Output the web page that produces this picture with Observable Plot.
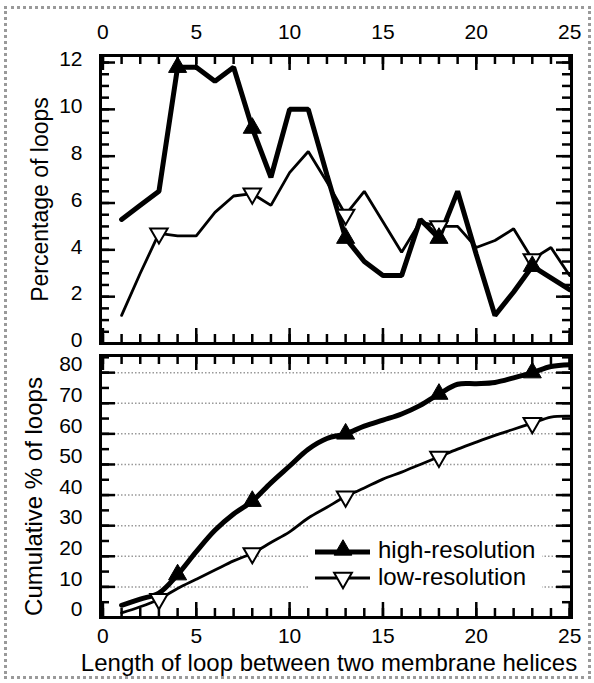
<!DOCTYPE html>
<html><head><meta charset="utf-8">
<script src="https://cdn.jsdelivr.net/npm/d3@7"></script>
<script src="https://cdn.jsdelivr.net/npm/@observablehq/plot@0.6"></script>
<style>
body{margin:0;background:#fff;}
#wrap{position:relative;width:594px;height:683px;overflow:hidden;background:#fff;font-family:"Liberation Sans",Arial,Helvetica,sans-serif;}
#border{position:absolute;left:4px;top:6px;width:587px;height:673px;box-sizing:border-box;border:3px dotted #9a9a9a;pointer-events:none;}
#top{position:absolute;left:0;top:0;}
#bottom{position:absolute;left:0;top:349px;}
#legend{position:absolute;left:308px;top:535px;width:234px;height:60px;background:#fff;}
</style></head><body>
<div id="wrap"><div id="top"></div><div id="bottom"></div><div id="legend"></div><div id="border"></div></div>
<script>
// ---- data ----
const lengths = [1,2,3,4,5,6,7,8,9,10,11,12,13,14,15,16,17,18,19,20,21,22,23,24,25];
const highPct = [5.3,5.9,6.5,11.8,11.8,11.2,11.8,9.2,7.1,10.0,10.0,7.2,4.5,3.5,2.9,2.9,5.3,4.5,6.5,3.8,1.2,2.2,3.3,2.8,2.3];
const lowPct  = [1.2,3.0,4.7,4.6,4.6,5.6,6.3,6.4,5.9,7.3,8.2,6.9,5.5,6.5,5.2,3.9,5.2,5.0,5.0,4.1,4.4,4.9,3.6,4.1,2.9];
const highCum = [4,6,8,14,21.5,28.5,33.8,38,44,49.5,55,58.5,60,62.5,64.5,66.5,69.3,73,76.2,76.4,76.8,78.3,80,82,82.6];
const lowCum  = [1.5,3.5,6,9.5,12.5,15.5,18.5,21,24.5,28,32.5,36,39.5,42.3,45.2,47.5,50,52.5,55,57.3,59.5,61.5,63.5,65.5,65.8];
const highMarkers = [4,8,13,18,23];
const lowMarkers  = [3,8,13,18,23];
const xMajorTicks = [0,5,10,15,20,25];
const xMinorTicks = [0,1,2,3,4,5,6,7,8,9,10,11,12,13,14,15,16,17,18,19,20,21,22,23,24,25];
const yTopMajor = [0,2,4,6,8,10,12];
const yTopMinor = [0,0.5,1,1.5,2,2.5,3,3.5,4,4.5,5,5.5,6,6.5,7,7.5,8,8.5,9,9.5,10,10.5,11,11.5,12];
const yBotMajor = [0,10,20,30,40,50,60,70,80];
const yBotMinor = [0,5,10,15,20,25,30,35,40,45,50,55,60,65,70,75,80,85];
const yTopLabel = "Percentage of loops";
const yBotLabel = "Cumulative % of loops";
const xLabel = "Length of loop between two membrane helices";
const seriesNames = ["high-resolution","low-resolution"];

const FONT = '"Liberation Sans", Arial, Helvetica, sans-serif';
const TICK = "black";
const xDomain = [-0.13, 25.1];
const W = 594, ML = 100, MR = 23;
const FW = W - ML - MR;
const rows = (ys) => lengths.map((x,i) => ({x, y: ys[i]}));
const pick = (ys, xs) => rows(ys).filter(d => xs.includes(d.x));

// inward tick marks along all four frame edges (rules inset to a short length)
function tickMarks(FH, yMaj, yMin, yLabelsDy) {
  const st = {stroke: TICK, strokeWidth: 2.5};
  const xt = (vals, len) => [
    Plot.ruleX(vals, {x: d=>d, insetBottom: FH - len, ...st}),
    Plot.ruleX(vals, {x: d=>d, insetTop: FH - len, ...st})
  ];
  const yt = (vals, len) => [
    Plot.ruleY(vals, {y: d=>d, insetRight: FW - len, ...st}),
    Plot.ruleY(vals, {y: d=>d, insetLeft: FW - len, ...st})
  ];
  return [
    ...xt(xMinorTicks, 9), ...xt(xMajorTicks, 15), ...yt(yMin, 9), ...yt(yMaj, 15),
    Plot.axisY(yMaj, {anchor:"left", tickSize:0, tickPadding:18, dy:yLabelsDy, label:null, fontSize:21})
  ];
}

const topH = 349, topMT = 55, topMB = 6;
const topPlot = Plot.plot({
  width: W, height: topH,
  marginLeft: ML, marginRight: MR, marginTop: topMT, marginBottom: topMB,
  style: {fontFamily: FONT, fontSize: "21px", background: "transparent", color: "black", overflow: "visible"},
  x: {domain: xDomain},
  y: {domain: [0, 12.3]},
  marks: [
    ...tickMarks(topH - topMT - topMB, yTopMajor, yTopMinor, -3),
    Plot.axisX(xMajorTicks, {anchor:"top", tickSize:0, tickPadding:17, label:null, fontSize:21}),
    Plot.text([yTopLabel], {text: d=>d, frameAnchor:"left", textAnchor:"middle", lineAnchor:"middle", dx:-60, rotate:-90, fontSize:23}),
    Plot.line(rows(lowPct), {x:"x", y:"y", stroke:"black", strokeWidth:2.8, strokeLinejoin:"miter"}),
    Plot.line(rows(highPct), {x:"x", y:"y", stroke:"black", strokeWidth:5, strokeLinejoin:"miter"}),
    Plot.dot(pick(lowPct, lowMarkers), {x:"x", y:"y", symbol:"triangle", rotate:180, r:6.5, fill:"white", stroke:"black", strokeWidth:2}),
    Plot.dot(pick(highPct, highMarkers), {x:"x", y:"y", symbol:"triangle", r:6.7, fill:"black", stroke:"black", strokeWidth:1}),
    Plot.frame({stroke:"black", strokeWidth:3})
  ]
});
document.getElementById("top").append(topPlot);

const botH = 334, botMT = 6, botMB = 66;
const botPlot = Plot.plot({
  width: W, height: botH,
  marginLeft: ML, marginRight: MR, marginTop: botMT, marginBottom: botMB,
  style: {fontFamily: FONT, fontSize: "21px", background: "transparent", color: "black", overflow: "visible"},
  x: {domain: xDomain},
  y: {domain: [0, 85.6]},
  marks: [
    Plot.gridY(yBotMajor.filter(d => d > 0), {stroke:"#999", strokeOpacity:1, strokeWidth:1.5, strokeDasharray:"1.5,2"}),
    ...tickMarks(botH - botMT - botMB, yBotMajor, yBotMinor, -8),
    Plot.axisX(xMajorTicks, {anchor:"bottom", tickSize:0, tickPadding:11, label:null, fontSize:21}),
    Plot.text([yBotLabel], {text: d=>d, frameAnchor:"left", textAnchor:"middle", lineAnchor:"middle", dx:-66, dy:10, rotate:-90, fontSize:24}),
    Plot.text([xLabel], {text: d=>d, frameAnchor:"bottom", textAnchor:"middle", lineAnchor:"middle", dx:-7, dy:46, fontSize:24}),
    Plot.line(rows(lowCum), {x:"x", y:"y", stroke:"black", strokeWidth:2.8, curve:"catmull-rom"}),
    Plot.line(rows(highCum), {x:"x", y:"y", stroke:"black", strokeWidth:5, curve:"catmull-rom"}),
    Plot.dot(pick(lowCum, lowMarkers), {x:"x", y:"y", symbol:"triangle", rotate:180, r:6.5, fill:"white", stroke:"black", strokeWidth:2}),
    Plot.dot(pick(highCum, highMarkers), {x:"x", y:"y", symbol:"triangle", r:6.7, fill:"black", stroke:"black", strokeWidth:1}),
    Plot.frame({stroke:"black", strokeWidth:3})
  ]
});
document.getElementById("bottom").append(botPlot);

// legend (HTML overlay)
const lg = d3.select("#legend").append("svg").attr("width",234).attr("height",60)
  .style("font-family", FONT);
const tri = d3.symbol().type(d3.symbolTriangle).size(Math.PI*6.6*6.6);
const items = [
  {name: seriesNames[0], y: 17, w: 5, filled: true, ty: 23},
  {name: seriesNames[1], y: 43, w: 2.8, filled: false, ty: 49.5}
];
items.forEach(it => {
  lg.append("line").attr("x1",7).attr("x2",62).attr("y1",it.y).attr("y2",it.y)
    .attr("stroke","black").attr("stroke-width",it.w);
  lg.append("path").attr("d",tri())
    .attr("transform",`translate(35,${it.y + (it.filled? -2 : 0)}) rotate(${it.filled?0:180})`)
    .attr("fill", it.filled ? "black" : "white").attr("stroke","black").attr("stroke-width", it.filled?1:2);
  lg.append("text").attr("x",70).attr("y",it.ty).attr("font-size",24).text(it.name);
});
</script>
</body></html>
